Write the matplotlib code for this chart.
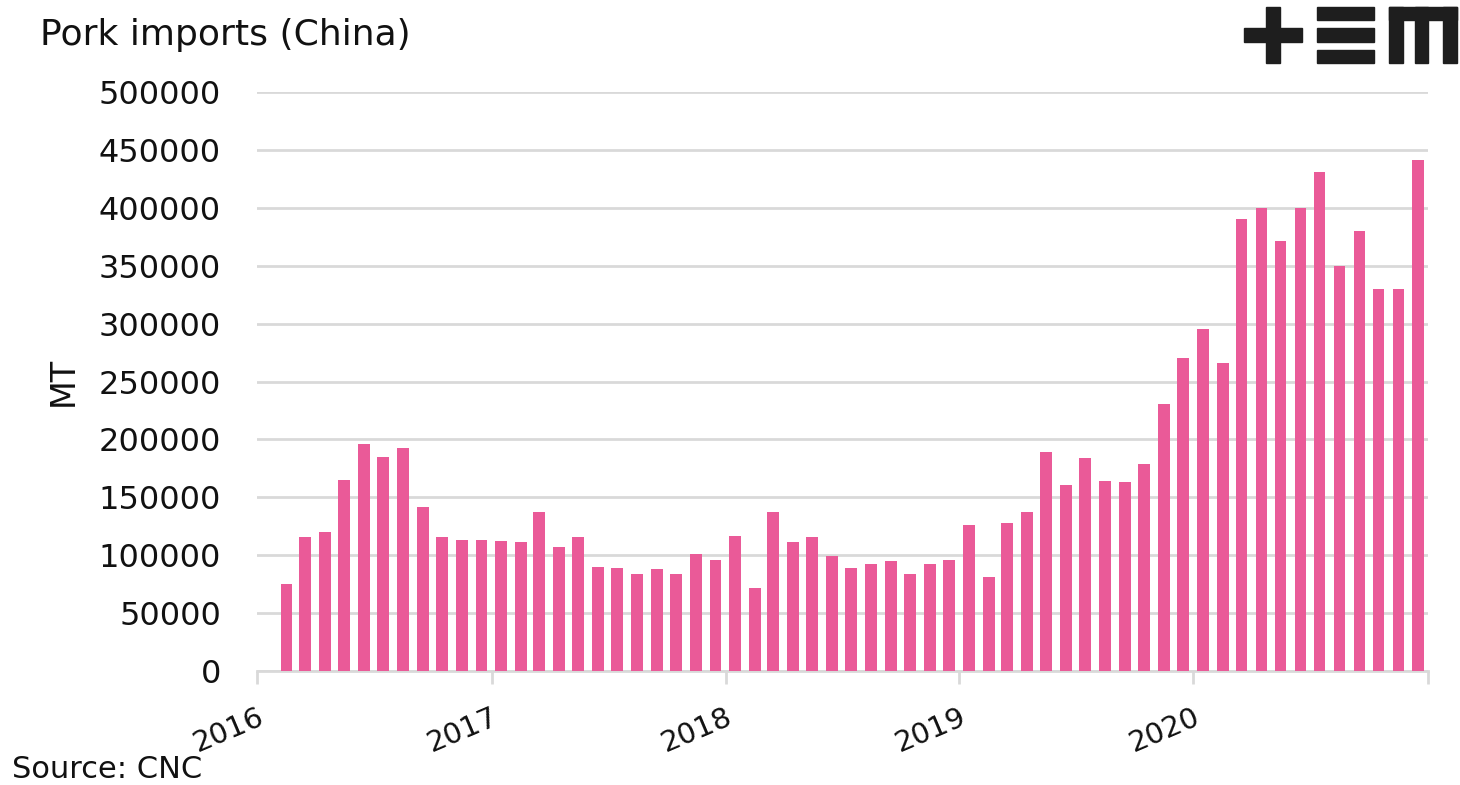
import matplotlib
matplotlib.use("Agg")
import matplotlib.pyplot as plt
import matplotlib.dates as mdates
from matplotlib.patches import Rectangle
import pandas as pd
import datetime as dt

plt.rcParams['font.family'] = ['DejaVu Sans']

# Data: monthly pork imports (MT), Feb 2016 - Dec 2020
start_month = "2016-02"
imports_mt = [
    75000, 116000, 120000, 165000, 196000, 185000, 193000, 142000, 116000, 113000, 113000,
    112000, 111000, 137000, 107000, 116000, 90000, 89000, 84000, 88000, 84000, 101000, 96000,
    117000, 72000, 137000, 111000, 116000, 99000, 89000, 92500, 95000, 84000, 92500, 96000,
    126000, 81000, 128000, 137000, 189000, 161000, 184000, 164000, 163000, 179000, 231000, 270000,
    295000, 266000, 390000, 400000, 371000, 400000, 431000, 350000, 380000, 330000, 330000, 441000,
]
y_ticks = [0, 50000, 100000, 150000, 200000, 250000, 300000, 350000, 400000, 450000, 500000]
year_ticks = [2016, 2017, 2018, 2019, 2020, 2021]
year_labels = ["2016", "2017", "2018", "2019", "2020", ""]
title = "Pork imports (China)"
y_label = "MT"
source = "Source: CNC"

bar_color = "#EA5A98"
grid_color = "#D9D9D9"
text_color = "#111111"

dates = pd.date_range(start=start_month, periods=len(imports_mt), freq="MS") + pd.Timedelta(days=15)

fig = plt.figure(figsize=(14.6, 7.85), dpi=100)
ax = fig.add_axes([257/1460, 1-671/785, (1428-257)/1460, (671-92)/785])

ax.bar(dates, imports_mt, width=18, color=bar_color, zorder=3)

ax.set_ylim(0, 500000)
ax.set_xlim(dt.date(2016, 1, 1), dt.date(2021, 1, 1))
ax.set_yticks(y_ticks)
ax.set_yticklabels([str(v) for v in y_ticks], fontsize=23, color=text_color)
ax.yaxis.grid(True, color=grid_color, linewidth=2, zorder=0)
ax.tick_params(axis='y', length=0, pad=26)

ax.set_xticks([mdates.date2num(dt.date(y, 1, 1)) for y in year_ticks])
ax.set_xticklabels(year_labels, fontsize=21, color=text_color, rotation=23,
                   ha='right', rotation_mode='anchor')
ax.tick_params(axis='x', length=9, width=2, color=grid_color, pad=14)

for s in ['top', 'right', 'left']:
    ax.spines[s].set_visible(False)
ax.spines['bottom'].set_color(grid_color)
ax.spines['bottom'].set_linewidth(2)

ax.set_ylabel(y_label, fontsize=24, color=text_color)
ax.yaxis.set_label_coords((63 - 257) / (1428 - 257), 0.5)
ax.yaxis.label.set_verticalalignment('center')

fig.text(40/1460, 1-35/785, title, fontsize=26, color=text_color, va='center', ha='left')
fig.text(12/1460, 1-770/785, source, fontsize=22, color=text_color, va='center', ha='left')

# Logo
logo_color = "#1E1E1E"
W, H = 1460, 785
def rect(x0, y0, x1, y1):
    fig.patches.append(Rectangle((x0/W, 1-y1/H), (x1-x0)/W, (y1-y0)/H,
                                 transform=fig.transFigure, color=logo_color, zorder=5))
# plus
rect(1244, 28, 1302, 42)
rect(1266, 7, 1280, 63)
# three bars
rect(1317, 7, 1374, 20)
rect(1317, 28, 1374, 42)
rect(1317, 50, 1374, 63)
# m
rect(1389, 7, 1457, 20)
rect(1389, 7, 1403, 63)
rect(1415, 7, 1428, 63)
rect(1443, 7, 1457, 63)

fig.savefig("out.png", dpi=100, facecolor="white")
